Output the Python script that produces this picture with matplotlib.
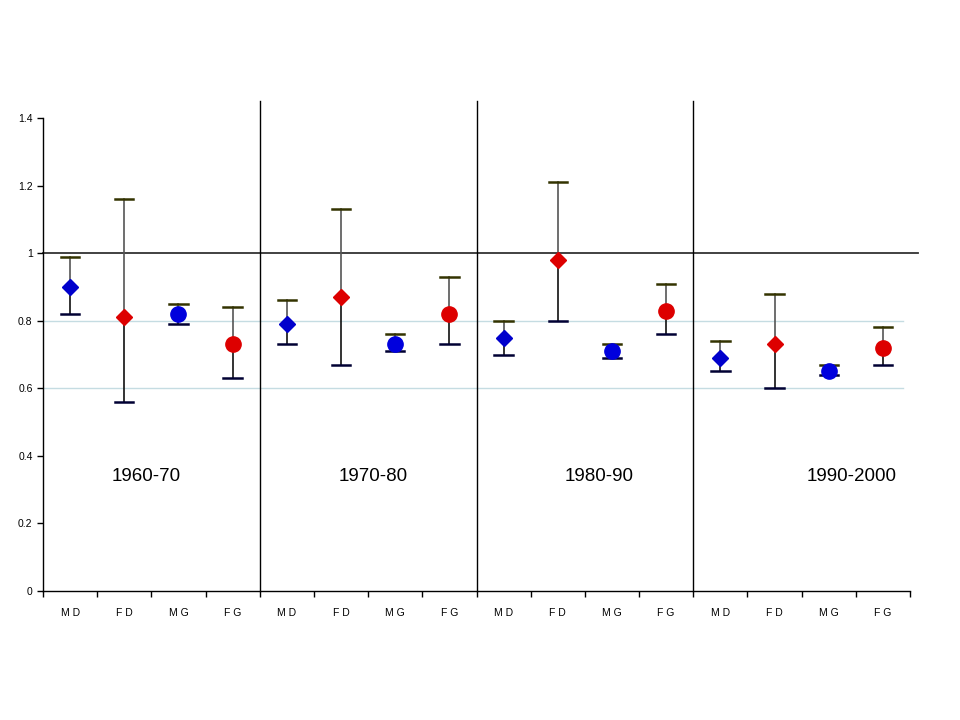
import matplotlib
matplotlib.use("Agg")
import matplotlib.pyplot as plt
import numpy as np

plt.rcParams['font.family'] = ['Liberation Sans', 'DejaVu Sans']

categories = ["M D", "F D", "M G", "F G"] * 4
periods = ["1960-70", "1970-80", "1980-90", "1990-2000"]

values = [0.90, 0.81, 0.82, 0.73,
          0.79, 0.87, 0.73, 0.82,
          0.75, 0.98, 0.71, 0.83,
          0.69, 0.73, 0.65, 0.72]
upper = [0.99, 1.16, 0.85, 0.84,
         0.86, 1.13, 0.76, 0.93,
         0.80, 1.21, 0.73, 0.91,
         0.74, 0.88, 0.67, 0.78]
lower = [0.82, 0.56, 0.79, 0.63,
         0.73, 0.67, 0.71, 0.73,
         0.70, 0.80, 0.69, 0.76,
         0.65, 0.60, 0.64, 0.67]

styles = {"M D": ("D", "#0000CC", 8.5),
          "F D": ("D", "#DD0000", 8.5),
          "M G": ("o", "#0000DD", 11),
          "F G": ("o", "#DD0000", 11)}

fig = plt.figure(figsize=(9.6, 7.2), dpi=100)
ax = fig.add_axes([43/960, 1-591/720, (910-43)/960, (591-118)/720])

x = np.arange(len(values))
ax.set_xlim(-0.5, len(values) - 0.5)
ax.set_ylim(0, 1.4)

# reference lines
for g in [0.6, 0.8]:
    ax.plot([-0.5, 15.37], [g, g], color="#C5DCE2", lw=1.0, zorder=1, clip_on=False)
ax.plot([-0.5, 15.65], [1.0, 1.0], color="#333333", lw=1.3, zorder=1, clip_on=False)

# group separators
for b in [3.5, 7.5, 11.5]:
    ax.plot([b, b], [0, 1.45], color="black", lw=1.0, zorder=1, clip_on=False)

capw = 0.17
for i, (v, u, l) in enumerate(zip(values, upper, lower)):
    ax.plot([i, i], [v, u], color="#555555", lw=1.2, zorder=2)
    ax.plot([i, i], [l, v], color="#111111", lw=1.2, zorder=2)
    ax.plot([i - capw, i + capw], [u, u], color="#333300", lw=1.8, zorder=2)
    ax.plot([i - capw, i + capw], [l, l], color="#000033", lw=1.8, zorder=2)
    m, c, s = styles[categories[i]]
    ax.plot(i, v, marker=m, color=c, markersize=s, markeredgecolor=c, zorder=3, linestyle="none")

# period labels
label_x = [1.40, 5.59, 9.76, 14.43]
for lx, p in zip(label_x, periods):
    ax.text(lx, 0.34, p, ha="center", va="center", fontsize=13.5)

ax.set_xticks(np.arange(-0.5, 16, 1))
ax.set_xticklabels([])
ax.set_xticks(x, minor=True)
ax.set_xticklabels(categories, minor=True, fontsize=7.5)
ax.tick_params(axis="x", which="minor", length=0, pad=12)
ax.tick_params(axis="x", which="major", length=4, width=1, direction="out")

ax.set_yticks(np.arange(0, 1.41, 0.2))
ax.set_yticklabels(["0", "0.2", "0.4", "0.6", "0.8", "1", "1.2", "1.4"], fontsize=7.5)
ax.tick_params(axis="y", length=4, width=1, direction="out")

for sp in ["top", "right"]:
    ax.spines[sp].set_visible(False)
ax.spines["left"].set_linewidth(1.0)
ax.spines["bottom"].set_linewidth(1.0)

fig.savefig("out.png", dpi=100)
